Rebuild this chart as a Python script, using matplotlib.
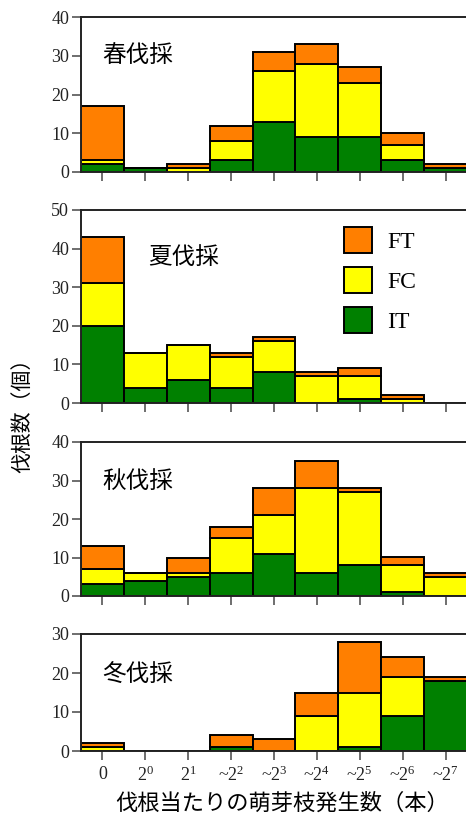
import matplotlib
matplotlib.use('Agg')
import matplotlib.pyplot as plt
from matplotlib.patches import Patch

plt.rcParams['font.family'] = ['Liberation Serif', 'DejaVu Serif']
plt.rcParams['mathtext.fontset'] = 'custom'
plt.rcParams['mathtext.rm'] = 'Liberation Serif'
plt.rcParams['mathtext.it'] = 'Liberation Serif'

JP = ['Noto Sans CJK JP', 'DejaVu Sans']

# bins: number of sprouts per stump
bins = ['0', '$2^{0}$', '$2^{1}$', '~$2^{2}$', '~$2^{3}$', '~$2^{4}$',
        '~$2^{5}$', '~$2^{6}$', '~$2^{7}$']

seasons = ['春伐採', '夏伐採', '秋伐採', '冬伐採']
ymax = [40, 50, 40, 30]

# IT / FC / FT per season
it_spring = [2, 1, 0, 3, 13, 9, 9, 3, 1]
fc_spring = [1, 0, 1, 5, 13, 19, 14, 4, 0]
ft_spring = [14, 0, 1, 4, 5, 5, 4, 3, 1]

it_summer = [20, 4, 6, 4, 8, 0, 1, 0, 0]
fc_summer = [11, 9, 9, 8, 8, 7, 6, 1, 0]
ft_summer = [12, 0, 0, 1, 1, 1, 2, 1, 0]

it_autumn = [3, 4, 5, 6, 11, 6, 8, 1, 0]
fc_autumn = [4, 2, 1, 9, 10, 22, 19, 7, 5]
ft_autumn = [6, 0, 4, 3, 7, 7, 1, 2, 1]

it_winter = [0, 0, 0, 1, 0, 0, 1, 9, 18]
fc_winter = [1, 0, 0, 0, 0, 9, 14, 10, 0]
ft_winter = [1, 0, 0, 3, 3, 6, 13, 5, 1]

data = [(it_spring, fc_spring, ft_spring),
        (it_summer, fc_summer, ft_summer),
        (it_autumn, fc_autumn, ft_autumn),
        (it_winter, fc_winter, ft_winter)]

c_it, c_fc, c_ft = '#008000', '#FFFF00', '#FF7F00'

W, H = 466, 816
fig = plt.figure(figsize=(W / 100, H / 100), dpi=100)

# panel pixel extents (top, bottom)
panels = [(17, 172), (210, 403), (442, 596), (634, 751)]
label_pos = [(102, 55), (148, 257), (102, 481), (102, 674)]
left, right = 81, 467

x = list(range(len(bins)))
for i, (top, bot) in enumerate(panels):
    ax = fig.add_axes([left / W, 1 - bot / H, (right - left) / W, (bot - top) / H])
    it, fc, ft = data[i]
    base2 = [a + b for a, b in zip(it, fc)]
    kw = dict(width=1.0, edgecolor='black', linewidth=1.4, zorder=2)
    ax.bar(x, it, color=c_it, **kw)
    ax.bar(x, fc, bottom=it, color=c_fc, **kw)
    ax.bar(x, ft, bottom=base2, color=c_ft, **kw)
    ax.set_xlim(-0.5, 8.5)
    ax.set_ylim(0, ymax[i])
    ax.set_yticks(range(0, ymax[i] + 1, 10))
    ax.set_xticks(x)
    if i == 3:
        ax.set_xticklabels(bins, fontsize=13)
    else:
        ax.set_xticklabels([])
    ax.tick_params(axis='both', direction='out', length=6.5, width=1.2,
                   color='#555555', labelsize=13, pad=2, labelcolor='#222222')
    ax.tick_params(axis='x', pad=4)
    for s in ['left', 'top', 'bottom']:
        ax.spines[s].set_color('#222222')
        ax.spines[s].set_linewidth(1.4)
    ax.spines['right'].set_visible(False)
    lx, ly = label_pos[i]
    fig.text(lx / W, 1 - ly / H, seasons[i], family=JP, fontsize=17,
             ha='left', va='center')

    if i == 1:
        handles = [Patch(facecolor=c_ft, edgecolor='black', linewidth=1.4),
                   Patch(facecolor=c_fc, edgecolor='black', linewidth=1.4),
                   Patch(facecolor=c_it, edgecolor='black', linewidth=1.4)]
        ax.legend(handles, ['FT', 'FC', 'IT'], loc='upper left',
                  bbox_to_anchor=((344 - left) / (right - left), 1 - (227 - top) / (bot - top)),
                  frameon=False, fontsize=17, handlelength=1.2, handleheight=1.3,
                  labelspacing=0.6, handletextpad=0.64, borderpad=0,
                  borderaxespad=0)

fig.text(22 / W, 1 - 410 / H, '伐根数（個）', family=JP, fontsize=15,
         rotation=90, ha='center', va='center')
fig.text(282 / W, 1 - 803 / H, '伐根当たりの萌芽枝発生数（本）', family=JP,
         fontsize=16, ha='center', va='center')

fig.savefig('out.png', dpi=100)
